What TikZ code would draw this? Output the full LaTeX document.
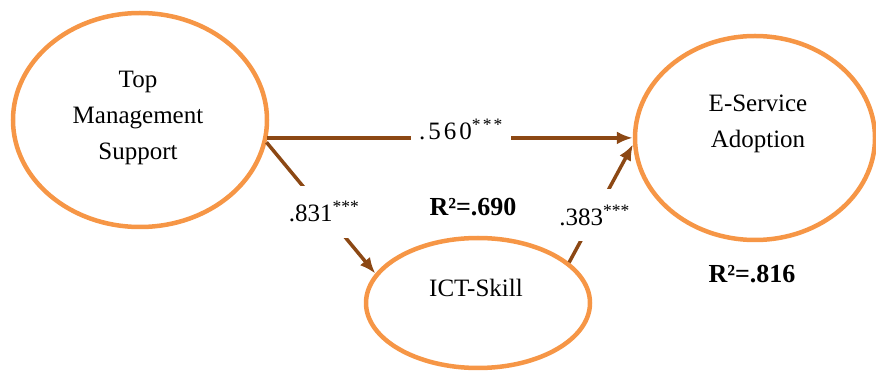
\documentclass[tikz,border=0pt]{standalone}
\usepackage{fontspec}
\setmainfont{Liberation Serif}
\usetikzlibrary{shapes.geometric,arrows.meta}
\definecolor{ovalorange}{RGB}{246,150,70}
\definecolor{arrowbrown}{RGB}{140,72,20}
\tikzset{
  oval/.style={ellipse, draw=ovalorange, line width=4.5pt, inner sep=0pt},
  txt/.style={font=\fontsize{25}{36}\selectfont, align=center, inner sep=0pt},
  arr/.style={draw=arrowbrown, line width=3.5pt, -{Latex[length=16pt,width=13pt]}},
  lab/.style={fill=white, font=\fontsize{25}{28}\selectfont, minimum height=52pt, inner xsep=2pt},
  hlab/.style={fill=white, font=\fontsize{25}{28}\selectfont\addfontfeature{LetterSpace=12}, inner xsep=8pt, inner ysep=4pt},
  rsq/.style={font=\fontsize{26}{28}\selectfont\bfseries, inner sep=0pt}
}
\begin{document}
\begin{tikzpicture}[x=1pt,y=-1pt]
\useasboundingbox (0,0) rectangle (876,371);
% ovals
\node[oval, minimum width=254pt, minimum height=214pt] (tms) at (140,120) {};
\node[oval, minimum width=240pt, minimum height=204pt] (esa) at (755,138) {};
\node[oval, minimum width=224pt, minimum height=130pt] (ict) at (478,303) {};
% texts
\node[txt] (tmstext) at (138,118) {Top\\Management\\Support};
\node[txt] (esatext) at (758,124) {E-Service\\Adoption};
\node[txt, anchor=base] (icttext) at (476,297) {ICT-Skill};
% connectors
\draw[arr] (tms.-8) -- node[hlab, pos=0.53, anchor=base, yshift=-2pt] (l1) {.560\textsuperscript{***}} (tms.-8 -| esa.west);
\draw[arr] (tms.-10) -- node[lab, pos=0.53] (l2) {.831\textsuperscript{***}} (ict.164);
\draw[arr] (ict.24) -- node[lab, pos=0.40] (l3) {.383\textsuperscript{***}} (esa.183);
% R squared
\node[rsq, anchor=base] (r1) at (473,216) {R²=.690};
\node[rsq, anchor=base] (r2) at (752,283) {R²=.816};
\end{tikzpicture}
\end{document}
